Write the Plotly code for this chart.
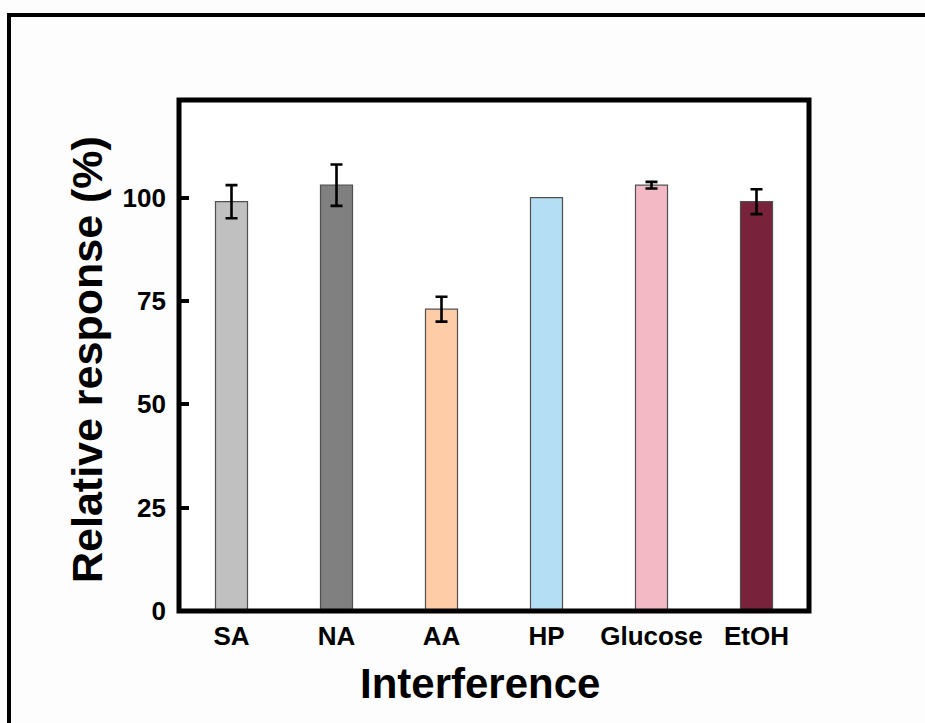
import plotly.graph_objects as go

# Interference study: relative response of the sensor to common interferents
categories = ["SA", "NA", "AA", "HP", "Glucose", "EtOH"]
response = [99, 103, 73, 100, 103, 99]
error = [4, 5, 3, None, 0.8, 3]
bar_colors = ["#c0c0c0", "#808080", "#ffcca8", "#b4def4", "#f3bac6", "#78233b"]
y_ticks = [0, 25, 50, 75, 100]

W, H = 925, 723
L, R, T, B = 179, 116, 100, 112
PW, PH = W - L - R, H - T - B


def px_x(x):
    return (x - L) / PW


def px_y(y):
    return (H - B - y) / PH


fig = go.Figure()
fig.add_trace(go.Bar(
    x=categories,
    y=response,
    width=0.305,
    marker=dict(color=bar_colors, line=dict(color="#505050", width=1.2)),
))

# error bars only for the interferents that have a measured spread
err_idx = [i for i, e in enumerate(error) if e is not None]
fig.add_trace(go.Scatter(
    x=[categories[i] for i in err_idx],
    y=[response[i] for i in err_idx],
    mode="markers",
    marker=dict(size=0.1, color="rgba(0,0,0,0)"),
    error_y=dict(type="data", array=[error[i] for i in err_idx], visible=True,
                 color="black", thickness=2.6, width=6),
    hoverinfo="skip",
))

font_family = "Liberation Sans, Arial, sans-serif"

fig.update_layout(
    width=W, height=H,
    margin=dict(l=L, r=R, t=T, b=B, pad=0),
    paper_bgcolor="#fdfdfd",
    plot_bgcolor="white",
    showlegend=False,
    font=dict(family=font_family, color="black"),
    xaxis=dict(
        type="category",
        range=[-0.5, 5.5],
        showline=False, showgrid=False, zeroline=False,
        ticks="", tickfont=dict(size=26, family=font_family, weight="bold"),
        ticklabelstandoff=7,
    ),
    yaxis=dict(
        range=[0, 123.6],
        tickvals=y_ticks,
        ticktext=[str(v) for v in y_ticks],
        showline=False, showgrid=False, zeroline=False,
        ticks="inside", ticklen=10, tickwidth=3.5, tickcolor="black",
        tickfont=dict(size=26, family=font_family, weight="bold"),
        ticklabelstandoff=12,
    ),
    shapes=[
        # plot frame
        dict(type="rect", xref="paper", yref="paper", x0=0, x1=1, y0=0, y1=1,
             line=dict(color="black", width=5), layer="above"),
        # outer border around the figure
        dict(type="rect", xref="paper", yref="paper",
             x0=px_x(9), x1=px_x(960), y0=px_y(15), y1=px_y(760),
             line=dict(color="black", width=4), layer="above"),
    ],
    annotations=[
        dict(text="<b>Interference</b>", xref="paper", yref="paper",
             x=px_x(480), y=px_y(683), showarrow=False,
             font=dict(size=42, family=font_family, color="black"),
             xanchor="center", yanchor="middle"),
        dict(text="<b>Relative response (%)</b>", xref="paper", yref="paper",
             x=px_x(87), y=px_y(360), showarrow=False, textangle=-90,
             font=dict(size=43, family=font_family, color="black"),
             xanchor="center", yanchor="middle"),
    ],
)

fig.write_html("out.html")
